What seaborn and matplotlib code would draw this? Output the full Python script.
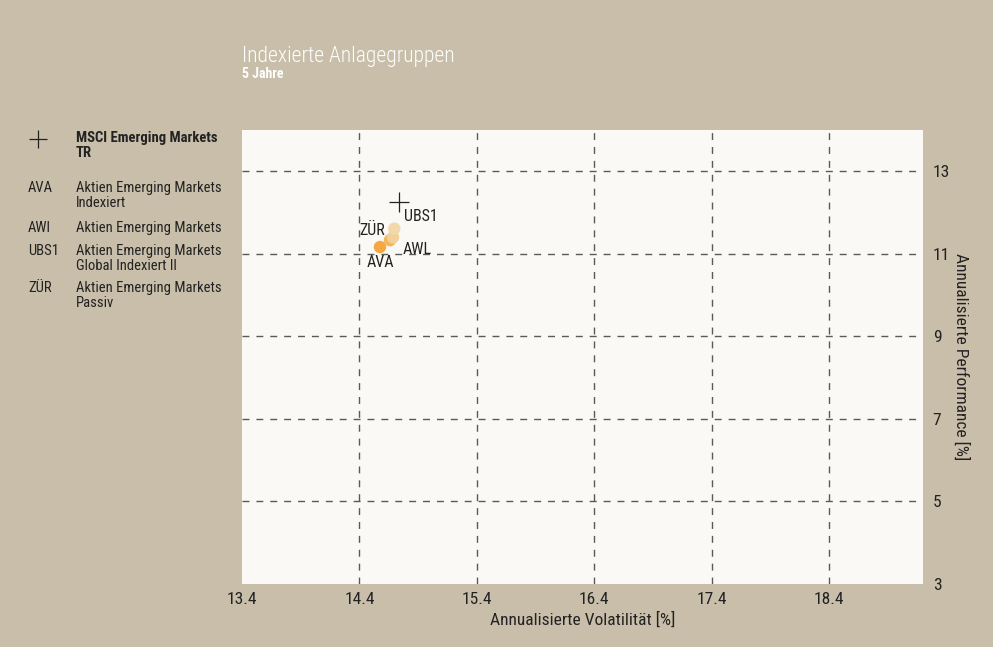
import numpy as np
import pandas as pd
import matplotlib
matplotlib.use("Agg")
import matplotlib.pyplot as plt
from matplotlib.lines import Line2D
import seaborn as sns

# data
codes = ["AVA", "AWI", "UBS1", "ZÜR"]
point_labels = ["AVA", "AWL", "UBS1", "ZÜR"]
names = [["Aktien Emerging Markets", "Indexiert"],
         ["Aktien Emerging Markets"],
         ["Aktien Emerging Markets", "Global Indexiert II"],
         ["Aktien Emerging Markets", "Passiv"]]
volatility = [14.575, 14.66, 14.686, 14.697]
performance = [11.165, 11.33, 11.40, 11.61]
bench_name = ["MSCI Emerging Markets", "TR"]
bench_vol = [14.737]
bench_perf = [12.25]
x_ticks = [13.4, 14.4, 15.4, 16.4, 17.4, 18.4]
y_ticks = [3, 5, 7, 9, 11, 13]

df = pd.DataFrame({"code": codes, "vol": volatility, "perf": performance})

sns.set_style("white")
plt.rcParams["font.family"] = ["Roboto Condensed", "Liberation Sans Narrow",
                               "Roboto", "DejaVu Sans"]

bg = "#c8bea9"
ink = "#222222"
W, H = 993, 647
fig = plt.figure(figsize=(9.93, 6.47), dpi=100, facecolor=bg)
ax = fig.add_axes([242 / W, 63 / H, 681 / W, 454 / H])
ax.set_facecolor("#faf9f6")

palette = {"AVA": "#f5a742", "AWI": "#f6b65a", "UBS1": "#f3d09a", "ZÜR": "#f2d9ab"}
sns.scatterplot(data=df, x="vol", y="perf", hue="code", palette=palette,
                s=80, edgecolor="none", legend=False, ax=ax, zorder=3)
ax.plot(bench_vol, bench_perf, marker="+", markersize=15, mew=0.9,
        color=ink, linestyle="none", zorder=4)

# point labels (offset of the baseline in pixels)
offsets = {"AVA": (0, -20, "center"), "AWL": (13, -14, "left"),
           "UBS1": (11, 16, "left"), "ZÜR": (-9, -6, "right")}
for lab, xv, yv in zip(point_labels, volatility, performance):
    dx, dy, ha = offsets[lab]
    ax.annotate(lab, (xv, yv), xytext=(dx, dy), textcoords="offset pixels",
                ha=ha, va="baseline", fontsize=11.5, color=ink, zorder=5)

ax.set_xlim(13.4, 19.2)
ax.set_ylim(3, 14)
ax.set_xticks(x_ticks)
ax.set_yticks(y_ticks)
ax.set_xticklabels([f"{t:.1f}" for t in x_ticks])
ax.set_yticklabels([str(t) for t in y_ticks])
ax.yaxis.tick_right()
ax.yaxis.set_label_position("right")
ax.tick_params(length=0, labelsize=12.5, colors=ink)
ax.tick_params(axis="x", pad=6)
ax.tick_params(axis="y", pad=7)
ax.grid(True, color="#5a5a5a", linestyle=(0, (5, 5)), linewidth=1)
# no grid line on the axes edges
ax.xaxis.get_gridlines()[0].set_visible(False)
ax.yaxis.get_gridlines()[0].set_visible(False)
for s in ax.spines.values():
    s.set_visible(False)

ax.set_xlabel("Annualisierte Volatilität [%]", fontsize=12.5, color=ink, labelpad=3)
ax.set_ylabel("Annualisierte Performance [%]", fontsize=12.5, color=ink,
              rotation=270, labelpad=14)

# title
fig.text(242 / W, 1 - 62 / H, "Indexierte Anlagegruppen", color="white",
         fontsize=15.5, fontweight="light", va="baseline", ha="left")
fig.text(242 / W, 1 - 78 / H, "5 Jahre", color="white", fontsize=10,
         fontweight="bold", va="baseline", ha="left")

# left legend
fig.add_artist(Line2D([38 / W], [1 - 139 / H], marker="+", markersize=13,
                      mew=0.9, color=ink, transform=fig.transFigure))
for i, line in enumerate(bench_name):
    fig.text(76 / W, 1 - (142 + 15 * i) / H, line, fontsize=10.5, color=ink,
             fontweight="bold", va="baseline", ha="left")
legend_baselines = [192, 232, 255, 292]
for code, lines, base in zip(codes, names, legend_baselines):
    fig.text(28 / W, 1 - base / H, code, fontsize=10.5, color=ink,
             va="baseline", ha="left")
    for i, line in enumerate(lines):
        fig.text(76 / W, 1 - (base + 15 * i) / H, line, fontsize=10.5,
                 color=ink, va="baseline", ha="left")

fig.savefig("out.png", dpi=100, facecolor=bg)
